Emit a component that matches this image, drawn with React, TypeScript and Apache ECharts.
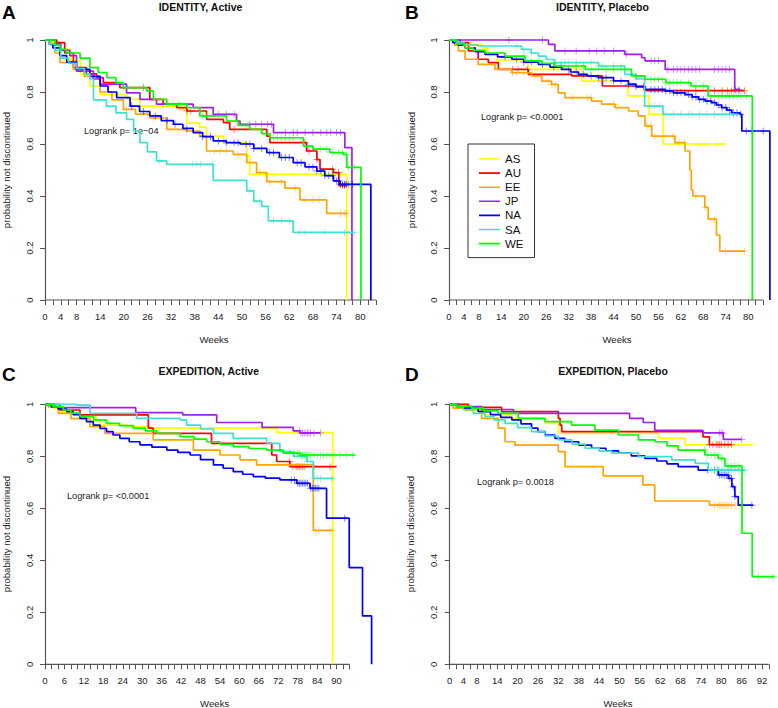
import React, { useEffect, useRef } from "react";
import * as echarts from "echarts";

type Pt = [number, number];

const groups = ["AS", "AU", "EE", "JP", "NA", "SA", "WE"];

// ---------- Panel A: IDENTITY, Active ----------
const A_AS: Pt[] = [[0,1],[2,0.99],[3.8,0.964],[6.5,0.92],[9,0.87],[11.4,0.823],[14,0.79],[20.7,0.772],[24.1,0.746],[34.3,0.733],[36,0.68],[39.3,0.665],[41,0.63],[45.3,0.605],[51.2,0.554],[52,0.483],[76.6,0]];
const A_AU: Pt[] = [[0,1],[3,0.99],[5,0.95],[7.2,0.894],[10.5,0.87],[13.1,0.855],[14.8,0.836],[19,0.817],[26.6,0.772],[30,0.753],[33.4,0.74],[36,0.727],[41,0.695],[45.3,0.682],[46.9,0.656],[56.3,0.63],[57.1,0.605],[66.4,0.573],[69,0.54],[69.8,0.503],[73.2,0.49],[74.6,0.44],[76.5,0.44]];
const A_EE: Pt[] = [[0,1],[1.5,0.98],[2.5,0.95],[3.8,0.913],[7.2,0.887],[10,0.86],[14,0.8],[17,0.77],[19.9,0.733],[23,0.715],[26.6,0.7],[30.9,0.656],[36,0.65],[39.3,0.63],[41,0.573],[47.8,0.56],[51.2,0.528],[53.7,0.49],[56.3,0.455],[60.9,0.43],[64.7,0.385],[71.5,0.333],[76.8,0.333]];
const A_JP: Pt[] = [[0,1],[2.5,0.985],[4,0.96],[6.3,0.94],[8,0.88],[12.3,0.85],[14,0.83],[20.7,0.797],[24.1,0.772],[28.3,0.753],[37.6,0.74],[42.7,0.714],[48.6,0.688],[49.5,0.676],[58,0.644],[76.1,0.586],[77.9,0]];
const A_NA: Pt[] = [[0,1],[1,0.985],[2,0.97],[3.8,0.94],[5.5,0.915],[8,0.887],[11.4,0.86],[14,0.823],[16,0.8],[18.2,0.778],[21.6,0.746],[24,0.725],[26.6,0.708],[29.5,0.69],[32.6,0.676],[35,0.66],[37.6,0.644],[40,0.628],[42.7,0.612],[46,0.605],[49.5,0.6],[53,0.583],[56.3,0.567],[59.5,0.548],[63,0.528],[66,0.512],[69,0.496],[71,0.478],[73.2,0.458],[74.9,0.445],[82.7,0]];
const A_SA: Pt[] = [[0,1],[1,0.985],[2.5,0.96],[4,0.93],[6,0.91],[8,0.89],[10,0.87],[11.4,0.85],[12.3,0.77],[15.6,0.746],[18,0.72],[20.7,0.695],[22.5,0.65],[24.1,0.605],[26,0.57],[28.3,0.535],[30.9,0.522],[42.7,0.46],[51.2,0.42],[53,0.38],[55,0.36],[56.7,0.304],[63,0.26],[78.5,0.26]];
const A_WE: Pt[] = [[0,1],[2.5,0.98],[3.8,0.964],[5.5,0.95],[8.9,0.93],[11.4,0.894],[13.5,0.875],[15.7,0.855],[18,0.835],[19.9,0.817],[25.8,0.804],[27.5,0.772],[30.9,0.753],[36,0.74],[39.3,0.708],[46.1,0.688],[49,0.672],[52,0.656],[55,0.64],[57.1,0.624],[65.6,0.592],[68,0.58],[72.3,0.567],[75.7,0.56],[76.6,0.51],[80.2,0]];
const cA_AS = [21.5, 27, 28.5, 34, 42, 43, 44.5, 53.5, 56, 58, 61, 62.5, 67, 70, 73, 75.5];
const cA_AU = [25, 36, 37, 48, 66, 67, 69, 73, 74.5, 75.5, 76];
const cA_EE = [20.7, 26, 27.5, 36, 43, 44.5, 46, 49, 54.5, 57, 60, 63.5, 66, 68, 69.5, 75, 76, 76.5];
const cA_JP = [30, 44, 46, 48, 52, 53.5, 55, 56.5, 57.5, 61, 63, 64, 66, 68, 70, 71.5, 72.5, 74, 75];
const cA_NA = [22, 25, 28, 31, 33, 36, 40, 42, 44, 46, 48, 49, 51, 52, 53, 55, 57, 58, 60, 61, 62, 64, 65, 67, 68, 69, 70, 71, 72, 73, 74, 74.5, 75, 75.5, 76, 76.2, 76.5, 77, 78, 80];
const cA_SA = [29, 37.5, 38.5, 39.5, 42.5, 52, 54.5, 58, 60, 62, 64.5, 66, 71, 76, 78.5];
const cA_WE = [20, 31, 32.5, 34, 40, 41, 58, 59, 60, 61, 62, 63, 70, 71.5, 73, 74.5, 75.5, 76.5, 77, 78.5];

// ---------- Panel B: IDENTITY, Placebo ----------
const B_AS: Pt[] = [[0,1],[2,0.99],[6,0.983],[8.7,0.97],[10.4,0.949],[12.8,0.923],[20.3,0.913],[21.2,0.887],[35.5,0.842],[47.9,0.785],[53.5,0.714],[57.3,0.6],[73.8,0.6]];
const B_AU: Pt[] = [[0,1],[3,0.99],[5.2,0.958],[7.8,0.926],[10.5,0.913],[13.2,0.887],[21.2,0.868],[32.8,0.862],[41,0.823],[52.3,0.805],[79,0.805]];
const B_EE: Pt[] = [[0,1],[1.5,0.98],[2.5,0.958],[4.3,0.926],[7.8,0.906],[12.3,0.887],[16.8,0.874],[22.1,0.862],[24.8,0.842],[27.4,0.829],[29.2,0.797],[31,0.778],[38.1,0.765],[40.8,0.753],[44.4,0.74],[48,0.727],[50.6,0.708],[52.4,0.67],[54.2,0.63],[60.4,0.605],[63.1,0.573],[64.4,0.5],[64.8,0.423],[65.2,0.4],[68.4,0.356],[69.3,0.311],[71.5,0.25],[72.4,0.188],[79.2,0.188]];
const B_JP: Pt[] = [[0,1],[26.6,0.983],[28.3,0.958],[47,0.945],[51.5,0.932],[52.4,0.92],[57.8,0.887],[76.4,0.81],[77.8,0.81]];
const B_NA: Pt[] = [[0,1],[1,0.99],[2.5,0.98],[4.3,0.97],[7,0.955],[9.6,0.945],[13,0.935],[16.8,0.926],[20,0.915],[23.9,0.906],[27,0.896],[30.1,0.887],[32.5,0.877],[34.6,0.868],[37,0.862],[39.9,0.855],[44,0.843],[48,0.83],[50,0.82],[52.4,0.81],[57.8,0.804],[60,0.797],[63.1,0.79],[65,0.781],[66.7,0.772],[68.5,0.765],[70.2,0.759],[71.5,0.75],[72.9,0.74],[74.3,0.73],[75.6,0.72],[77.8,0.714],[78.3,0.65],[85.8,0]];
const B_SA: Pt[] = [[0,1],[2,0.99],[4,0.98],[7.8,0.977],[19.4,0.964],[22,0.95],[23.9,0.938],[26,0.925],[28.3,0.913],[40,0.9],[47,0.868],[50,0.85],[52.3,0.746],[57.2,0.714],[76.5,0.714]];
const B_WE: Pt[] = [[0,1],[2,0.985],[4.3,0.97],[6.5,0.96],[9.6,0.95],[15,0.938],[20.3,0.92],[24.8,0.91],[28.3,0.9],[36.4,0.887],[48.8,0.862],[52.4,0.849],[58,0.836],[64.7,0.823],[69.3,0.785],[81.1,0]];
const cB_AS = [21, 23, 25, 27, 28, 36.5, 38, 40, 44, 49.5, 51, 53.5, 55, 58, 61, 63, 67, 68, 69, 71.5, 73.5];
const cB_AU = [17, 18.5, 21, 66, 71, 73, 74.5, 75.5, 76.5, 77.5, 79];
const cB_EE = [17, 18, 20, 26.5, 27.5, 28.5, 33, 37, 38, 44, 45, 53, 54, 55, 60, 61.5, 63, 66, 68.5, 71, 74, 79];
const cB_JP = [16, 25, 31, 34, 37.5, 39.5, 41.5, 44, 47.5, 54, 55, 56, 58.5, 60, 61, 62, 63, 64, 65, 66, 67, 71, 72, 73, 74, 75, 76.5, 77.5];
const cB_NA = [15, 18, 20, 22, 25, 28, 30, 32, 34, 36, 38, 40, 42, 44, 46, 48, 50, 52, 54, 55, 56, 57, 58, 59, 60, 61, 62, 63, 64, 65, 66, 67, 68, 69, 70, 71, 72, 73, 74, 75, 76, 77, 78, 79.5, 81, 84];
const cB_SA = [18, 20, 22, 30, 31, 32, 34, 38, 40, 41, 44, 46, 54, 55, 56.5, 58, 60, 62, 64, 65, 67, 69, 71, 73, 74, 75, 76, 77];
const cB_WE = [20, 24, 28, 30, 34, 36, 38, 42, 44, 46, 50, 54, 55, 56, 57, 58, 59, 60, 61, 62, 64, 66, 68, 70, 72, 73, 74, 75, 76, 77, 78, 79.5];

// ---------- Panel C: EXPEDITION, Active ----------
const C_AS: Pt[] = [[0,1],[2.5,0.985],[4.6,0.97],[8,0.96],[12,0.95],[15.9,0.94],[17,0.92],[25.2,0.914],[32.4,0.908],[71.5,0.891],[88.8,0]];
const C_AU: Pt[] = [[0,1],[3,0.99],[4.6,0.978],[10.8,0.959],[31.9,0.908],[33.4,0.888],[51.4,0.85],[70,0.805],[71.5,0.78],[75.6,0.76],[90,0.76]];
const C_EE: Pt[] = [[0,1],[1,0.99],[4.1,0.965],[8,0.945],[13.9,0.914],[18.5,0.888],[33.4,0.863],[45.8,0.824],[54,0.805],[60.2,0.786],[65.3,0.767],[82.8,0.515],[89,0.515]];
const C_JP: Pt[] = [[0,1],[4.6,0.987],[28,0.968],[42.5,0.959],[53,0.93],[67,0.911],[76.6,0.898],[78.7,0.89],[85,0.89]];
const C_NA: Pt[] = [[0,1],[2,0.99],[4,0.982],[6.7,0.972],[8.7,0.96],[10.8,0.946],[12.8,0.933],[14.9,0.92],[17,0.907],[19,0.895],[21,0.882],[23.1,0.869],[26,0.856],[29.3,0.844],[33,0.835],[37.6,0.824],[41,0.815],[44.8,0.805],[48,0.787],[52,0.767],[55,0.754],[58.1,0.741],[61,0.731],[64.3,0.722],[68,0.716],[72.5,0.709],[77.7,0.696],[81.8,0.677],[86.9,0.562],[93.9,0.372],[98,0.186],[100.8,0]];
const C_SA: Pt[] = [[0,1],[9.8,0.997],[13.9,0.965],[28.3,0.946],[41.7,0.94],[43.7,0.92],[48,0.905],[52,0.888],[58.1,0.869],[68.4,0.85],[72.5,0.818],[76.6,0.8],[80.8,0.78],[82.8,0.715],[89,0.715]];
const C_WE: Pt[] = [[0,1],[2.5,0.99],[5.7,0.978],[8,0.966],[10.8,0.953],[15,0.94],[19,0.927],[23,0.918],[27.3,0.908],[31,0.898],[34.5,0.888],[41.7,0.876],[46,0.866],[49.9,0.856],[54,0.846],[58.1,0.837],[63,0.83],[68.4,0.824],[73.6,0.812],[78.7,0.805],[95.7,0.805]];
const cC_AS = [85.4];
const cC_AU = [75.5, 76.5, 77.5, 78, 78.5, 79, 79.5, 80, 83, 88];
const cC_EE = [83.5, 84.5, 88];
const cC_JP = [78.5, 79, 79.5, 80, 80.5, 81, 81.5, 82, 83, 85];
const cC_NA = [76, 77, 78, 78.5, 79, 79.5, 80, 80.5, 81, 82, 82.5, 83, 83.5, 84, 84.5, 92.5];
const cC_SA = [78, 79, 80, 81, 82, 83, 84, 85, 88.5];
const cC_WE = [75.5, 77, 78, 78.5, 79, 79.5, 80, 80.5, 81, 81.5, 82, 83, 84, 85, 86, 87, 88, 89.5, 91, 93, 95];

// ---------- Panel D: EXPEDITION, Placebo ----------
const D_AS: Pt[] = [[0,1],[4,0.99],[8,0.975],[10.4,0.959],[18.3,0.946],[28.1,0.927],[32,0.888],[61.5,0.869],[69.3,0.844],[89,0.844]];
const D_AU: Pt[] = [[0,1],[5.5,0.988],[15.3,0.972],[32,0.946],[32.5,0.92],[33,0.895],[74.6,0.875],[76.5,0.845],[83,0.845]];
const D_EE: Pt[] = [[0,1],[1,0.985],[4.5,0.978],[9.4,0.946],[14.3,0.908],[16.3,0.856],[19.2,0.843],[32,0.818],[34,0.76],[45.2,0.725],[56.9,0.69],[60.4,0.628],[76.5,0.612],[84,0.612]];
const D_JP: Pt[] = [[0,1],[2.5,0.991],[9.4,0.98],[18.8,0.965],[53,0.946],[57,0.93],[60.4,0.9],[74.6,0.89],[80.6,0.865],[86,0.865]];
const D_NA: Pt[] = [[0,1],[2,0.99],[4,0.985],[8.4,0.972],[12,0.96],[15,0.95],[18.3,0.94],[21,0.925],[24.1,0.908],[26,0.895],[28.1,0.882],[31,0.869],[33.9,0.856],[38,0.843],[41.8,0.831],[46,0.821],[49.7,0.812],[53.5,0.802],[57.5,0.792],[61,0.782],[64,0.771],[67.3,0.76],[73.2,0.747],[79.1,0.728],[82.1,0.715],[83.1,0.683],[84,0.645],[85,0.612],[89.4,0.612]];
const D_SA: Pt[] = [[0,1],[2,0.99],[4,0.98],[7,0.965],[10.4,0.953],[13,0.94],[16.3,0.927],[20,0.91],[24.1,0.895],[28,0.878],[32,0.863],[36,0.847],[39.9,0.831],[44,0.82],[47.7,0.812],[55.6,0.799],[65.4,0.786],[72.3,0.773],[76.2,0.747],[87,0.747]];
const D_WE: Pt[] = [[0,1],[2,0.992],[6.5,0.985],[10,0.975],[14.3,0.965],[20.2,0.946],[28.1,0.933],[35.9,0.92],[42.8,0.901],[49.7,0.882],[55.6,0.863],[60.5,0.856],[64,0.84],[67.3,0.824],[75.2,0.805],[79.1,0.792],[81.1,0.763],[86.1,0.504],[89.1,0.337],[95.7,0.337]];
const cD_AS = [79, 80, 82, 83, 84, 85, 86, 87, 88, 89];
const cD_AU = [76.5, 77.5, 78.5, 79, 79.5, 80, 81, 82, 83];
const cD_EE = [78, 79, 79.5, 80, 80.5, 81, 81.5, 82, 83, 84];
const cD_JP = [79.5, 80, 80.5, 86];
const cD_NA = [76, 78, 79, 79.5, 80, 80.5, 81, 81.5, 82, 82.5, 83, 83.5, 84, 86, 89];
const cD_SA = [75.5, 77, 78, 78.5, 79, 79.5, 80, 80.5, 81, 81.5, 82, 82.5, 83, 84, 85, 86, 87];
const cD_WE = [75, 76, 77, 78, 79, 80, 80.5, 82, 83, 84, 85, 91, 95.3];

// ---------- axis labels ----------
const xLabelsAB = [0, 4, 8, 14, 20, 26, 32, 38, 44, 50, 56, 62, 68, 74, 80];
const xLabelsC = [0, 6, 12, 18, 24, 30, 36, 42, 48, 54, 60, 66, 72, 78, 84, 90];
const xLabelsD = [0, 4, 8, 14, 20, 26, 32, 38, 44, 50, 56, 62, 68, 74, 80, 86, 92];
const lastTickAB = 84;
const lastTickCD = 94;
const titles = ["IDENTITY, Active", "IDENTITY, Placebo", "EXPEDITION, Active", "EXPEDITION, Placebo"];
const letters = ["A", "B", "C", "D"];
const pvalues = ["Logrank p= 1e\u221204", "Logrank p= <0.0001", "Logrank p= <0.0001", "Logrank p= 0.0018"];

const colors = ["#FFFF00", "#FF0000", "#FFA500", "#A020F0", "#0000FF", "#40E0D0", "#00FF00"];
const FONT = "'Liberation Sans', Arial, Helvetica, sans-serif";
const PLUS = "path://M4.3,0H5.7V4.3H10V5.7H5.7V10H4.3V5.7H0V4.3H4.3Z";
// thin horizontal line icon inside a 21x14 box (tiny corner dots keep the box size)
const LEGEND_LINE = "path://M0,0H0.02V0.02H0Z M0,6.2H21V7.8H0Z M20.98,13.98H21V14H20.98Z";

function survAt(curve: Pt[], t: number): number {
  let s = 1;
  for (const [ti, si] of curve) {
    if (ti <= t) s = si;
    else break;
  }
  return s;
}

function hexA(hex: string, a: number) {
  const r = parseInt(hex.slice(1, 3), 16), g = parseInt(hex.slice(3, 5), 16), b = parseInt(hex.slice(5, 7), 16);
  return `rgba(${r},${g},${b},${a})`;
}

const panels = [
  { curves: [A_AS, A_AU, A_EE, A_JP, A_NA, A_SA, A_WE], cens: [cA_AS, cA_AU, cA_EE, cA_JP, cA_NA, cA_SA, cA_WE], labels: xLabelsAB, lastTick: lastTickAB, xmax: 84,
    grid: { left: 45, top: 40, width: 84 * 3.94, height: 260 }, title: [200.5, 7], letter: [2, 12], ylab: [6, 170], xlab: [214, 339], pval: [84, 131] },
  { curves: [B_AS, B_AU, B_EE, B_JP, B_NA, B_SA, B_WE], cens: [cB_AS, cB_AU, cB_EE, cB_JP, cB_NA, cB_SA, cB_WE], labels: xLabelsAB, lastTick: lastTickAB, xmax: 86,
    grid: { left: 449, top: 40, width: 86 * 3.74, height: 260 }, title: [602.5, 7], letter: [405, 12], ylab: [411, 170], xlab: [617, 339], pval: [481, 117] },
  { curves: [C_AS, C_AU, C_EE, C_JP, C_NA, C_SA, C_WE], cens: [cC_AS, cC_AU, cC_EE, cC_JP, cC_NA, cC_SA, cC_WE], labels: xLabelsC, lastTick: lastTickCD, xmax: 101,
    grid: { left: 45, top: 404.3, width: 101 * 3.24, height: 260 }, title: [208.7, 371], letter: [2, 374], ylab: [6, 534], xlab: [214.7, 703], pval: [67, 496] },
  { curves: [D_AS, D_AU, D_EE, D_JP, D_NA, D_SA, D_WE], cens: [cD_AS, cD_AU, cD_EE, cD_JP, cD_NA, cD_SA, cD_WE], labels: xLabelsD, lastTick: lastTickCD, xmax: 96,
    grid: { left: 449.7, top: 404.3, width: 96 * 3.395, height: 260 }, title: [613, 371], letter: [405, 374], ylab: [410, 534], xlab: [618, 703], pval: [477, 482] },
];

function buildOption() {
  const grid: any[] = [];
  const xAxis: any[] = [];
  const yAxis: any[] = [];
  const series: any[] = [];
  const graphic: any[] = [];
  const axisColor = "#555";
  const textColor = "#222";

  panels.forEach((p, i) => {
    grid.push({ ...p.grid, containLabel: false });
    const ticks: number[] = [];
    for (let v = 0; v <= p.lastTick; v += 2) ticks.push(v);
    xAxis.push({
      type: "value", gridIndex: i, min: 0, max: p.xmax,
      axisLine: { show: false },
      splitLine: { show: false },
      axisTick: { show: true, length: 5, lineStyle: { color: axisColor, width: 1 }, customValues: ticks },
      axisLabel: { show: true, customValues: p.labels, margin: 11, fontSize: 9.5, color: textColor, fontFamily: FONT, formatter: (v: number) => String(Math.round(v)) },
    });
    yAxis.push({
      type: "value", gridIndex: i, min: 0, max: 1, interval: 0.2,
      axisLine: { show: true, lineStyle: { color: axisColor, width: 1.2 } },
      splitLine: { show: false },
      axisTick: { show: true, length: 5, lineStyle: { color: axisColor, width: 1 } },
      axisLabel: { rotate: 90, margin: 11, fontSize: 9.5, color: textColor, fontFamily: FONT,
        formatter: (v: number) => (Math.abs(v) < 1e-9 ? "0" : Math.abs(v - 1) < 1e-9 ? "1" : v.toFixed(1)) },
    });
    series.push({
      type: "line", xAxisIndex: i, yAxisIndex: i, data: [[0, 0], [p.lastTick, 0]], symbol: "none", silent: true, clip: false,
      lineStyle: { color: axisColor, width: 1.2 }, z: 1, tooltip: { show: false },
    });
    p.curves.forEach((curve, g) => {
      series.push({
        name: groups[g], type: "line", step: "end", xAxisIndex: i, yAxisIndex: i,
        data: curve, symbol: "none", showSymbol: false, clip: false, silent: true,
        lineStyle: { color: colors[g], width: 1.7 }, itemStyle: { color: colors[g] }, z: 2 + g,
      });
      series.push({
        name: groups[g] + " censored", type: "scatter", xAxisIndex: i, yAxisIndex: i,
        data: p.cens[g].map((t) => [t, survAt(curve, t)]),
        symbol: PLUS, symbolSize: 7, silent: true, clip: false,
        itemStyle: { color: hexA(colors[g], 0.6) }, z: 2 + g,
      });
    });
    graphic.push(
      { type: "text", x: p.letter[0], y: p.letter[1], style: { text: letters[i], font: `bold 19px ${FONT}`, fill: "#000", align: "left", verticalAlign: "middle" } },
      { type: "text", x: p.title[0], y: p.title[1], style: { text: titles[i], font: `bold 10.5px ${FONT}`, fill: "#111", align: "center", verticalAlign: "middle" } },
      { type: "text", x: p.ylab[0], y: p.ylab[1], rotation: Math.PI / 2, style: { text: "probability not discontinued", font: `9.6px ${FONT}`, fill: textColor, align: "center", verticalAlign: "middle" } },
      { type: "text", x: p.xlab[0], y: p.xlab[1], style: { text: "Weeks", font: `9.6px ${FONT}`, fill: textColor, align: "center", verticalAlign: "middle" } },
      { type: "text", x: p.pval[0], y: p.pval[1], style: { text: pvalues[i], font: `9.2px ${FONT}`, fill: textColor, align: "left", verticalAlign: "middle" } },
    );
  });

  return {
    animation: false,
    backgroundColor: "#fff",
    grid, xAxis, yAxis, series, graphic,
    legend: {
      show: true,
      data: groups.map((g) => ({ name: g, icon: LEGEND_LINE })),
      orient: "vertical", left: 468, top: 144,
      itemWidth: 21, itemHeight: 14, itemGap: 0.1,
      padding: [8, 11, 7, 11],
      borderColor: "#333", borderWidth: 1, backgroundColor: "#fff",
      textStyle: { fontSize: 11.5, color: "#111", fontFamily: FONT, lineHeight: 14 },
      selectedMode: false,
    },
  };
}

export default function App() {
  const ref = useRef<HTMLDivElement>(null);
  useEffect(() => {
    if (!ref.current) return;
    const chart = echarts.init(ref.current, undefined, { renderer: "svg" });
    chart.setOption(buildOption() as any);
    return () => chart.dispose();
  }, []);
  return <div ref={ref} style={{ position: "fixed", left: 0, top: 0, width: 778, height: 708, background: "#fff" }} />;
}
